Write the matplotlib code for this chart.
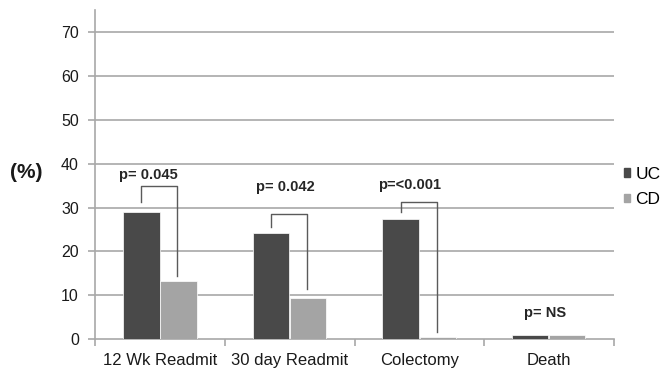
import matplotlib.pyplot as plt
from matplotlib.patches import Patch

categories = ["12 Wk Readmit", "30 day Readmit", "Colectomy", "Death"]
uc_values = [29.0, 24.1, 27.3, 0.9]
cd_values = [13.3, 9.5, 0.5, 0.9]

p_labels = ["p= 0.045", "p= 0.042", "p=<0.001", "p= NS"]
p_label_y = [37.4, 34.7, 35.2, 6.1]
p_label_dx = [-0.09, -0.036, -0.075, -0.026]

# brackets: (category, left leg bottom, top, right leg bottom)
brackets = [(0, 31.3, 34.8, 14.5), (1, 25.5, 28.6, 11.4), (2, 29.0, 31.2, 1.7)]

UC_COLOR = "#494949"
CD_COLOR = "#a4a4a4"
GRID_COLOR = "#a8a8a8"

plt.rcParams["font.family"] = ["Liberation Sans", "DejaVu Sans"]

fig = plt.figure(figsize=(6.63, 3.69), dpi=100)
ax = fig.add_axes([0.144, 0.0805, 0.7815, 0.8925])

x = list(range(len(categories)))
w = 0.28
ax.bar([i - 0.145 for i in x], uc_values, width=w, color=UC_COLOR,
       edgecolor="white", linewidth=0.5, zorder=3)
ax.bar([i + 0.142 for i in x], cd_values, width=w, color=CD_COLOR,
       edgecolor="white", linewidth=0.5, zorder=3)

for cat, y_left, y_top, y_right in brackets:
    xl = cat - 0.145
    xr = cat + 0.133
    ax.plot([xl, xl, xr, xr], [y_left, y_top, y_top, y_right],
            color="#5a5a5a", linewidth=1.0, zorder=4)

for i, (lab, yy, dx) in enumerate(zip(p_labels, p_label_y, p_label_dx)):
    ax.text(i + dx, yy, lab, ha="center", va="center", fontsize=10.5,
            fontweight="bold", color="#262626", zorder=5)

ax.set_xlim(-0.5, 3.5)
ax.set_ylim(0, 75)
ax.set_yticks(range(0, 71, 10))
for v in range(10, 71, 10):
    ax.axhline(v, color=GRID_COLOR, linewidth=1.2, zorder=1)

ax.set_xticks(x)
ax.set_xticklabels(categories)
ax.set_xticks([-0.5, 0.5, 1.5, 2.5, 3.5], minor=True)
ax.tick_params(axis="x", which="major", length=0, pad=10, labelsize=12,
               colors="#1a1a1a")
ax.tick_params(axis="x", which="minor", length=5, width=1.2, color=GRID_COLOR,
               direction="out")
ax.tick_params(axis="y", length=5, width=1.2, color=GRID_COLOR, pad=7,
               labelsize=11.5, labelcolor="#1a1a1a")

for side in ["top", "right"]:
    ax.spines[side].set_visible(False)
ax.spines["left"].set_color(GRID_COLOR)
ax.spines["bottom"].set_color(GRID_COLOR)
ax.spines["left"].set_linewidth(1.2)
ax.spines["bottom"].set_linewidth(1.2)

fig.text(26 / 663, 1 - 172 / 369, "(%)", fontsize=15, fontweight="bold",
         ha="center", va="center", color="#1a1a1a")

handles = [Patch(color=UC_COLOR, label="UC"), Patch(color=CD_COLOR, label="CD")]
fig.legend(handles=handles, loc="center left",
           bbox_to_anchor=(624 / 663, 1 - 187 / 369), frameon=False,
           fontsize=12.5, handlelength=0.35, handleheight=0.35,
           handletextpad=0.3, labelspacing=0.6, borderpad=0,
           borderaxespad=0)

fig.savefig("out.png", dpi=100)
